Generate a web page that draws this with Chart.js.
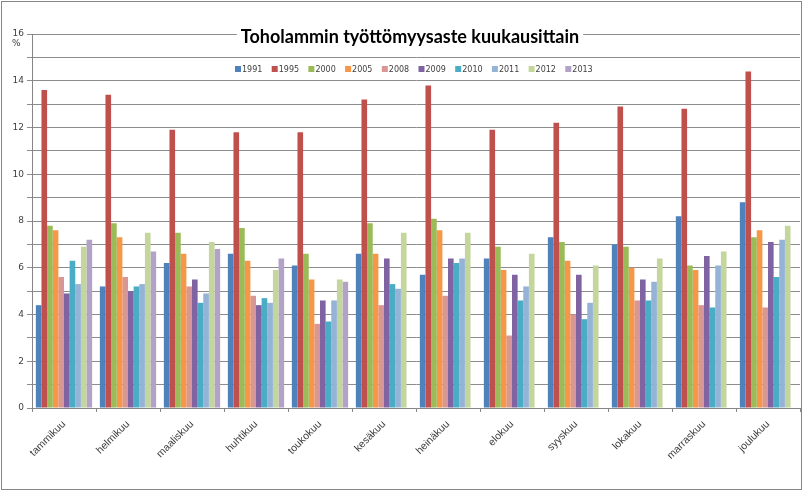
<!DOCTYPE html>
<html>
<head>
<meta charset="utf-8">
<script src="https://cdn.jsdelivr.net/npm/chart.js@4.4.0/dist/chart.umd.min.js"></script>
<style>
  html, body { margin: 0; padding: 0; background: #fff; }
  canvas { display: block; }
</style>
</head>
<body>
<canvas id="chart" width="805" height="492"></canvas>
<script>
// ---------------------------
// Data
// ---------------------------
const months = ["tammikuu", "helmikuu", "maaliskuu", "huhtikuu", "toukokuu", "kesäkuu",
                "heinäkuu", "elokuu", "syyskuu", "lokakuu", "marraskuu", "joulukuu"];
const years = ["1991", "1995", "2000", "2005", "2008", "2009", "2010", "2011", "2012", "2013"];

const v1991 = [4.4, 5.2, 6.2, 6.6, 6.1, 6.6, 5.7, 6.4, 7.3, 7.0, 8.2, 8.8];
const v1995 = [13.6, 13.4, 11.9, 11.8, 11.8, 13.2, 13.8, 11.9, 12.2, 12.9, 12.8, 14.4];
const v2000 = [7.8, 7.9, 7.5, 7.7, 6.6, 7.9, 8.1, 6.9, 7.1, 6.9, 6.1, 7.3];
const v2005 = [7.6, 7.3, 6.6, 6.3, 5.5, 6.6, 7.6, 5.9, 6.3, 6.0, 5.9, 7.6];
const v2008 = [5.6, 5.6, 5.2, 4.8, 3.6, 4.4, 4.8, 3.1, 4.0, 4.6, 4.4, 4.3];
const v2009 = [4.9, 5.0, 5.5, 4.4, 4.6, 6.4, 6.4, 5.7, 5.7, 5.5, 6.5, 7.1];
const v2010 = [6.3, 5.2, 4.5, 4.7, 3.7, 5.3, 6.2, 4.6, 3.8, 4.6, 4.3, 5.6];
const v2011 = [5.3, 5.3, 4.9, 4.5, 4.6, 5.1, 6.4, 5.2, 4.5, 5.4, 6.1, 7.2];
const v2012 = [6.9, 7.5, 7.1, 5.9, 5.5, 7.5, 7.5, 6.6, 6.1, 6.4, 6.7, 7.8];
const v2013 = [7.2, 6.7, 6.8, 6.4, 5.4, null, null, null, null, null, null, null];

const seriesValues = [v1991, v1995, v2000, v2005, v2008, v2009, v2010, v2011, v2012, v2013];
const seriesColors = ["#4f81bd", "#c0504d", "#9bbb59", "#f79646", "#d99694",
                      "#8064a2", "#4bacc6", "#95b3d7", "#c3d69b", "#b3a2c7"];

const titleText = "Toholammin työttömyysaste kuukausittain";
const unitText = "%";

// ---------------------------
// Title, legend and frame (drawn over the plot like the original)
// ---------------------------
const decorPlugin = {
    id: "decor",
    afterDraw(chart) {
        const ctx = chart.ctx;
        ctx.save();

        // title with white backing
        ctx.font = "bold 18px Lato";
        const tw = ctx.measureText(titleText).width;
        ctx.fillStyle = "#fff";
        ctx.fillRect(410 - tw / 2 - 4, 26, tw + 8, 20);
        ctx.fillStyle = "#000";
        ctx.textAlign = "center";
        ctx.textBaseline = "middle";
        ctx.fillText(titleText, 410, 37);

        // legend
        ctx.font = "8px 'DejaVu Sans'";
        ctx.textAlign = "left";
        let x = 235;
        chart.data.datasets.forEach(ds => {
            ctx.fillStyle = ds.backgroundColor;
            ctx.fillRect(x, 66, 6, 6);
            ctx.fillStyle = "#404040";
            ctx.fillText(ds.label, x + 7, 69.5);
            x += 36.7;
        });

        // unit under the top tick label
        ctx.font = "9px 'DejaVu Sans'";
        ctx.fillStyle = "#404040";
        ctx.fillText(unitText, 12, 44);

        // outer frame
        ctx.strokeStyle = "#868686";
        ctx.lineWidth = 1;
        ctx.strokeRect(1.5, 1.5, 800, 488);
        ctx.restore();
    }
};

// ---------------------------
// Chart
// ---------------------------
const ctx = document.getElementById("chart").getContext("2d");
new Chart(ctx, {
    type: "bar",
    data: {
        labels: months,
        datasets: years.map((y, i) => ({
            label: y,
            data: seriesValues[i],
            backgroundColor: seriesColors[i],
            borderWidth: 0,
            categoryPercentage: 0.88,
            barPercentage: 1.0
        }))
    },
    options: {
        responsive: false,
        animation: false,
        devicePixelRatio: 1,
        layout: { padding: { top: 34, right: 5, left: 0, bottom: 0 } },
        plugins: {
            legend: { display: false },
            title: { display: false },
            tooltip: { enabled: false }
        },
        scales: {
            x: {
                offset: true,
                grid: { offset: true, drawOnChartArea: false, drawTicks: true, tickLength: 4, color: "#868686" },
                border: { color: "#868686" },
                ticks: {
                    autoSkip: false, minRotation: 45, maxRotation: 45, padding: 6,
                    color: "#404040", font: { family: "Liberation Sans", size: 10.5 }
                },
                afterFit: s => { s.height = 84; }
            },
            y: {
                min: 0,
                max: 16,
                grid: { color: "#8c8c8c", tickLength: 5 },
                border: { color: "#868686" },
                ticks: {
                    stepSize: 1, padding: 3, color: "#404040",
                    font: { family: "DejaVu Sans", size: 9 },
                    callback: v => (v % 2 === 0 ? v : "")
                },
                afterFit: s => { s.width = 32; }
            }
        }
    },
    plugins: [decorPlugin]
});
</script>
</body>
</html>
